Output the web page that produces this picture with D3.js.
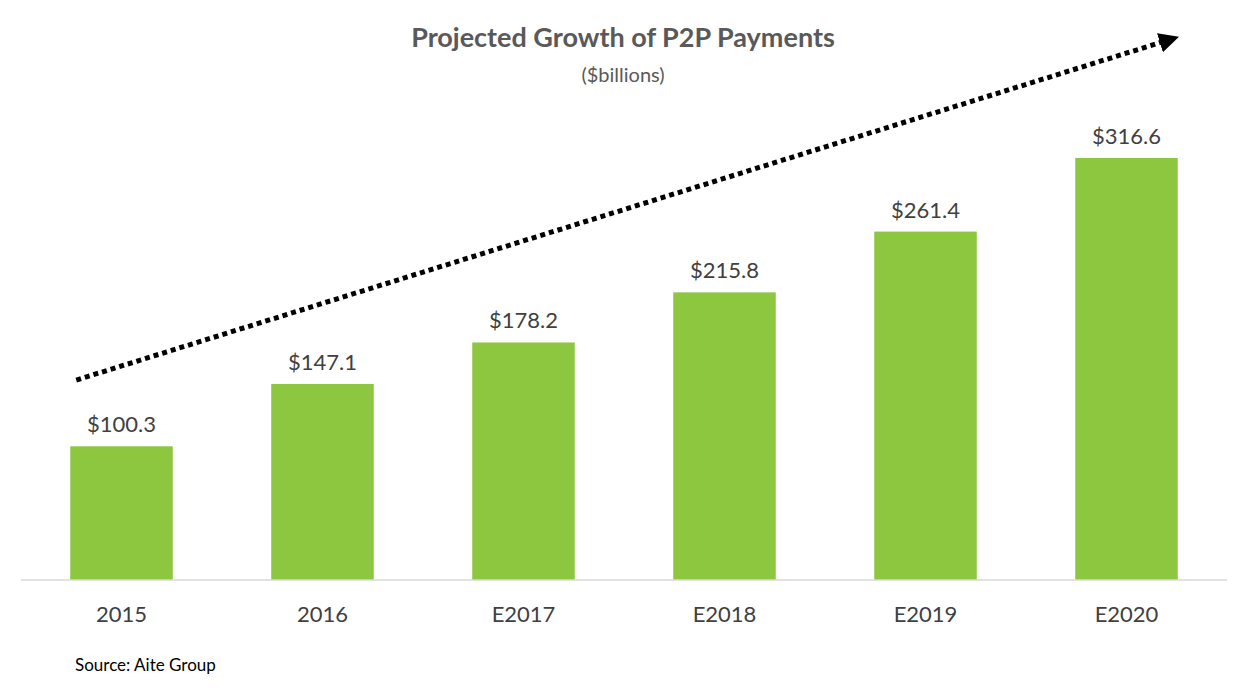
<!DOCTYPE html>
<html>
<head>
<meta charset="utf-8">
<script src="https://cdn.jsdelivr.net/npm/d3@7"></script>
<style>
  body { margin: 0; background: #fff; }
  text { font-family: Lato, "Open Sans", sans-serif; }
</style>
</head>
<body>
<svg id="chart" width="1249" height="692"></svg>
<script>
// data
const categories = ["2015", "2016", "E2017", "E2018", "E2019", "E2020"];
const values = [100.3, 147.1, 178.2, 215.8, 261.4, 316.6];
// trend arrow ends, in data units (value axis)
const trendFrom = 150;
const trendTo = 404;

const svg = d3.select("#chart");
const baseY = 580;

const x = d3.scaleBand().domain(categories).range([21, 1227]).paddingInner(0.49).paddingOuter(0.245);
const y = d3.scaleLinear().domain([0, 316.6]).range([baseY, 158]);

svg.append("text")
  .attr("x", 623).attr("y", 47)
  .attr("text-anchor", "middle")
  .attr("font-size", 27).attr("font-weight", "bold")
  .attr("fill", "#595959")
  .text("Projected Growth of P2P Payments");

svg.append("text")
  .attr("x", 623).attr("y", 82)
  .attr("text-anchor", "middle")
  .attr("font-size", 20)
  .attr("fill", "#595959")
  .text("($billions)");

svg.selectAll("rect.bar")
  .data(values)
  .join("rect")
  .attr("class", "bar")
  .attr("x", (d, i) => x(categories[i]))
  .attr("y", d => y(d))
  .attr("width", x.bandwidth())
  .attr("height", d => baseY - y(d))
  .attr("fill", "#8DC63F");

svg.selectAll("text.val")
  .data(values)
  .join("text")
  .attr("class", "val")
  .attr("x", (d, i) => x(categories[i]) + x.bandwidth() / 2)
  .attr("y", d => y(d) - 14)
  .attr("text-anchor", "middle")
  .attr("font-size", 22)
  .attr("fill", "#404040")
  .text(d => "$" + d.toFixed(1));

// axis
const xAxis = svg.append("g").attr("transform", `translate(0,${baseY})`)
  .call(d3.axisBottom(x).tickSize(0).tickPadding(26));
xAxis.select(".domain").attr("stroke", "#d9d9d9").attr("stroke-width", 1.5)
  .attr("d", "M21,0H1227");
xAxis.selectAll("text").attr("font-size", 22).attr("fill", "#404040")
  .style("font-family", "Lato, 'Open Sans', sans-serif");

svg.append("text")
  .attr("x", 75).attr("y", 671)
  .attr("font-size", 17)
  .attr("fill", "#000")
  .text("Source: Aite Group");

// dotted trend arrow
svg.append("defs").append("marker")
  .attr("id", "arrow")
  .attr("viewBox", "0 0 10 10")
  .attr("refX", 2).attr("refY", 5)
  .attr("markerWidth", 4).attr("markerHeight", 4)
  .attr("orient", "auto")
  .append("path").attr("d", "M0,0L10,5L0,10z").attr("fill", "#000");

svg.append("line")
  .attr("x1", x(categories[0]) + 6)
  .attr("y1", y(trendFrom))
  .attr("x2", x(categories[5]) + x.bandwidth() - 14)
  .attr("y2", y(trendTo))
  .attr("stroke", "#000")
  .attr("stroke-width", 5)
  .attr("stroke-dasharray", "5,4")
  .attr("marker-end", "url(#arrow)");
</script>
</body>
</html>
